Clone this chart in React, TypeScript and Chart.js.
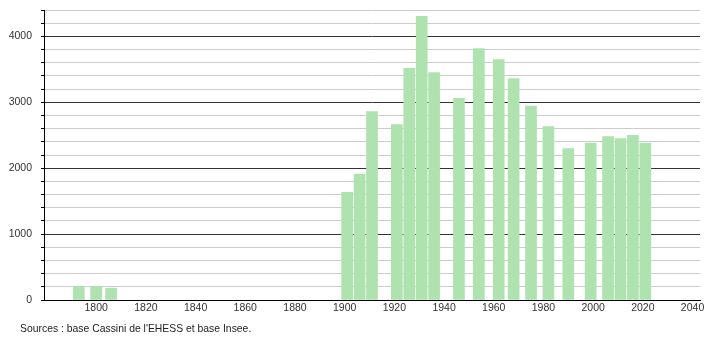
import React, { useEffect, useRef } from "react";
import { Chart, registerables } from "chart.js";

Chart.register(...registerables);

const years = [1793, 1800, 1806, 1901, 1906, 1911, 1921, 1926, 1931, 1936, 1946, 1954, 1962, 1968, 1975, 1982, 1990, 1999, 2006, 2011, 2016, 2021];
const population = [205, 205, 180, 1632, 1909, 2859, 2662, 3515, 4303, 3450, 3061, 3813, 3647, 3359, 2944, 2631, 2298, 2379, 2480, 2450, 2500, 2379];
const sourceText = "Sources : base Cassini de l'EHESS et base Insee.";

const FONT = "'Liberation Sans', Arial, sans-serif";

export default function App() {
  const ref = useRef<HTMLCanvasElement | null>(null);

  useEffect(() => {
    if (!ref.current) return;
    const chart = new Chart(ref.current, {
      type: "bar",
      data: {
        datasets: [
          {
            data: years.map((y, i) => ({ x: y, y: population[i] })),
            backgroundColor: "rgb(174,226,174)",
            borderWidth: 0,
            barThickness: 11,
          },
        ],
      },
      options: {
        animation: false,
        responsive: false,
        maintainAspectRatio: false,
        layout: { padding: { left: 0, right: 10, top: 10, bottom: 0 } },
        plugins: { legend: { display: false }, tooltip: { enabled: false }, title: { display: false } },
        scales: {
          x: {
            type: "linear",
            min: 1779,
            max: 2043,
            offset: false,
            grid: { display: false, drawTicks: false },
            border: { display: true, color: "#000", width: 1 },
            ticks: {
              stepSize: 20,
              includeBounds: false,
              autoSkip: false,
              maxRotation: 0,
              padding: 2,
              color: "#333",
              font: { family: FONT, size: 10.5 },
              callback: (v: any) => (Number(v) >= 1800 ? String(v) : ""),
            },
            afterFit: (s: any) => {
              s.height = 40;
              s.paddingLeft = 0;
              s.paddingRight = 0;
            },
          },
          y: {
            min: 0,
            max: 4400,
            grid: {
              color: (ctx: any) => (ctx.tick && ctx.tick.value % 1000 === 0 ? "#333" : "#cccccc"),
              tickColor: "#000",
              tickLength: 3,
              lineWidth: 1,
            },
            border: { display: true, color: "#000", width: 1 },
            ticks: {
              stepSize: 200,
              autoSkip: false,
              padding: 9,
              color: "#333",
              font: { family: FONT, size: 10.5 },
              callback: (v: any) => (Number(v) % 1000 === 0 ? String(v) : ""),
            },
            afterFit: (s: any) => {
              s.width = 44;
              s.paddingTop = 0;
              s.paddingBottom = 0;
            },
          },
        },
      },
    });
    return () => chart.destroy();
  }, []);

  return (
    <div style={{ position: "fixed", left: 0, top: 0, width: 710, height: 340, background: "#fff" }}>
      <canvas ref={ref} width={710} height={340} style={{ display: "block" }} />
      <div
        style={{
          position: "absolute",
          left: 20,
          top: 323,
          fontFamily: FONT,
          fontSize: 10.4,
          color: "#222",
          whiteSpace: "nowrap",
        }}
      >
        {sourceText}
      </div>
    </div>
  );
}
